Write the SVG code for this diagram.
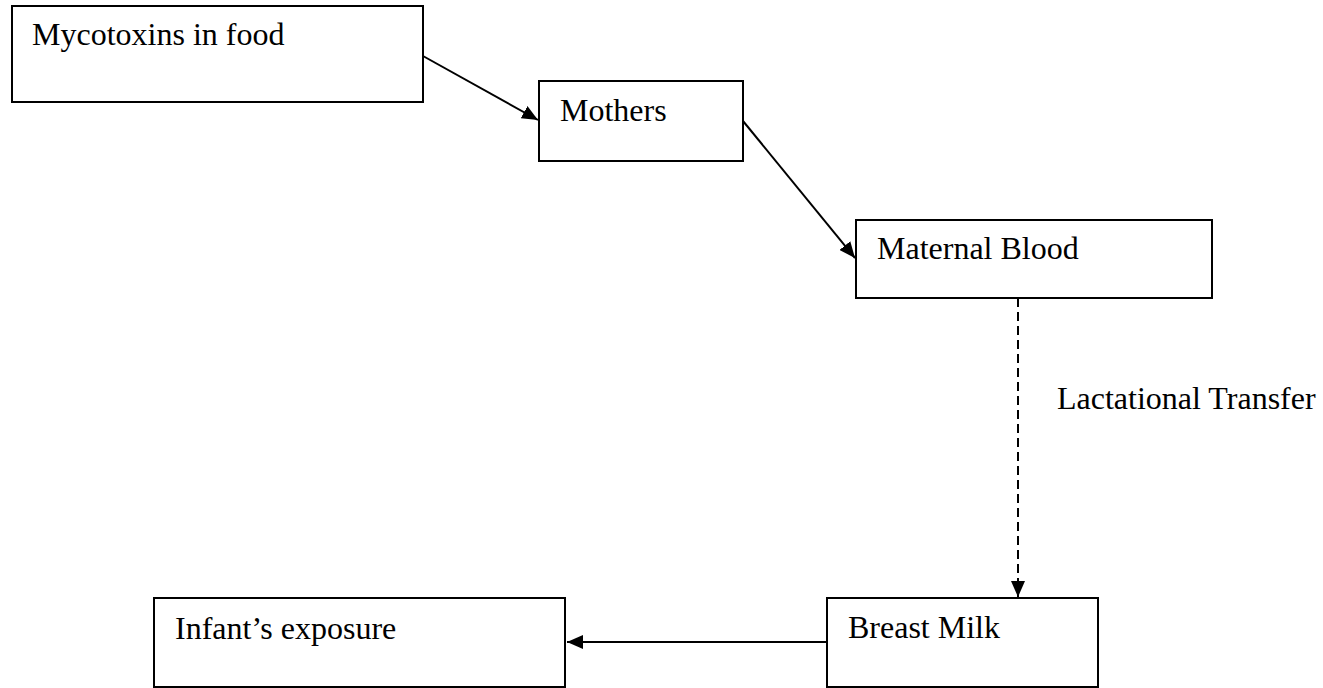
<svg xmlns="http://www.w3.org/2000/svg" width="1323" height="688" viewBox="0 0 1323 688">
<style>
.box{fill:#fff;stroke:#000;stroke-width:2}
.lbl{font-family:"Liberation Serif","Times New Roman",serif;font-size:32px;fill:#000}
.con{fill:none;stroke:#000;stroke-width:2}
.dash{stroke-dasharray:9 5}
</style>
<defs>
<marker id="arr" viewBox="0 0 16 14" refX="16" refY="7" markerWidth="16" markerHeight="14" markerUnits="userSpaceOnUse" orient="auto">
<path d="M0,0 L16,7 L0,14 Z" fill="#000"/>
</marker>
</defs>
<rect width="1323" height="688" fill="#fff"/>
<g id="connectors">
<line class="con" x1="423" y1="56" x2="538" y2="120" marker-end="url(#arr)"/>
<line class="con" x1="743" y1="121" x2="855" y2="258" marker-end="url(#arr)"/>
<line class="con dash" x1="1018" y1="298" x2="1018" y2="597" marker-end="url(#arr)"/>
<line class="con" x1="827" y1="642" x2="567" y2="642" marker-end="url(#arr)"/>
<text class="lbl" x="1057" y="409">Lactational Transfer</text>
</g>
<g id="node-mycotoxins">
<rect class="box" x="12" y="6" width="411" height="96"/>
<text class="lbl" x="32" y="45">Mycotoxins in food</text>
</g>
<g id="node-mothers">
<rect class="box" x="539" y="81" width="204" height="80"/>
<text class="lbl" x="560" y="121">Mothers</text>
</g>
<g id="node-maternal-blood">
<rect class="box" x="856" y="220" width="356" height="78"/>
<text class="lbl" x="877" y="259">Maternal Blood</text>
</g>
<g id="node-breast-milk">
<rect class="box" x="827" y="598" width="271" height="89"/>
<text class="lbl" x="848" y="638">Breast Milk</text>
</g>
<g id="node-infant">
<rect class="box" x="154" y="598" width="411" height="89"/>
<text class="lbl" x="175" y="639">Infant’s exposure</text>
</g>
</svg>
